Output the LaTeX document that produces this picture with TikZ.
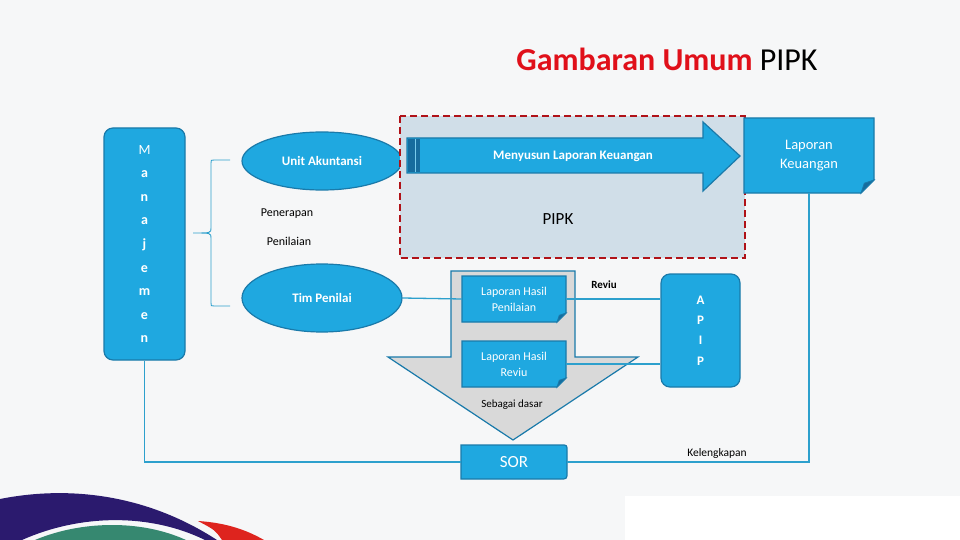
\documentclass[tikz,border=0pt]{standalone}
\usepackage{fontspec}
\setmainfont{Carlito}
\usetikzlibrary{shapes.geometric}

\definecolor{boxblue}{RGB}{31,168,224}
\definecolor{boxedge}{RGB}{26,122,170}
\definecolor{lineblue}{RGB}{45,160,205}
\definecolor{foldblue}{RGB}{22,108,158}
\definecolor{pipkfill}{RGB}{208,222,232}
\definecolor{pipkred}{RGB}{176,18,24}
\definecolor{titlered}{RGB}{224,16,26}
\definecolor{arrowgray}{RGB}{217,217,217}
\definecolor{bgcol}{RGB}{246,247,248}
\definecolor{logopurple}{RGB}{43,26,110}
\definecolor{logogreen}{RGB}{54,136,112}
\definecolor{logored}{RGB}{222,36,30}

\tikzset{
  bluebox/.style={fill=boxblue, draw=boxedge, line width=1.2pt, text=white},
  doctext/.style={text=white, align=center, inner sep=0pt},
  conn/.style={draw=lineblue, line width=1.3pt},
  plainlabel/.style={text=black, font=\fontsize{11.5}{13}\selectfont}
}

% page with folded lower right corner: x1,y1,x2,y2,fold
\newcommand{\docpage}[5]{%
  \filldraw[bluebox] (#1,#2) -- (#3,#2) -- (#3,#4-#5) -- (#3-#5,#4) -- (#1,#4) -- cycle;
  \filldraw[fill=foldblue, draw=boxedge, line width=0.8pt] (#3-#5,#4) -- (#3,#4-#5) -- (#3-#5+0.25*#5,#4-#5+0.25*#5) -- cycle;
}

\begin{document}
\begin{tikzpicture}[x=1pt,y=-1pt]
    \fill[bgcol] (0,0) rectangle (960,540);
    \fill[white] (625,496) rectangle (960,540);
    % logo
    \fill[logopurple] (0,499) .. controls (60,487) and (140,490) .. (217,540) -- (205,540) .. controls (150,513) and (80,514) .. (22,540) -- (0,540) -- cycle;
    \fill[logogreen] (35,540) .. controls (80,521) and (140,519) .. (186,540) -- cycle;
    \fill[logored] (198,521) .. controls (230,523) and (250,532) .. (264,540) -- (222,540) .. controls (215,530) .. (198,521) -- cycle;

    \node[anchor=base, font=\fontsize{32}{36}\selectfont] (title) at (667,71) {\textcolor{titlered}{\bfseries Gambaran Umum} PIPK};

    \node[bluebox, rounded corners=9, minimum width=81, minimum height=232, align=center,
      font=\fontsize{14}{23.6}\selectfont] (manajemen) at (144.5,244) {M\\\textbf{a}\\\textbf{n}\\\textbf{a}\\\textbf{j}\\\textbf{e}\\\textbf{m}\\\textbf{e}\\\textbf{n}};

    \draw[lineblue, line width=0.9pt] (230,160) -- (214,160) .. controls (211,160) .. (211,163) -- (211,228)
      .. controls (211,233) .. (193,233) .. controls (211,233) .. (211,238) -- (211,303)
      .. controls (211,306) .. (214,306) -- (230,306);

    \node[bluebox, ellipse, minimum width=160, minimum height=58, font=\fontsize{13}{15}\selectfont\bfseries] (unitak) at (322,161) {Unit Akuntansi};
    \node[bluebox, ellipse, minimum width=160, minimum height=68, font=\fontsize{13}{15}\selectfont\bfseries] (timpenilai) at (322,298) {Tim Penilai};
    \node[plainlabel, font=\fontsize{12}{14}\selectfont] (penerapan) at (287,214) {Penerapan};
    \node[plainlabel, font=\fontsize{12}{14}\selectfont] (penilaian) at (289,241) {Penilaian};

    \draw[pipkred, fill=pipkfill, line width=2.2pt, dash pattern=on 7pt off 4pt] (400,116) rectangle (745,258);
    \filldraw[bluebox] (407,138) -- (703,138) -- (703,122) -- (740,156) -- (703,191) -- (703,173) -- (407,173) -- cycle;
    \fill[foldblue] (408,138.6) rectangle (420,172.4);
    \draw[boxblue!60!white, line width=0.8pt] (415,139) -- (415,172);
    \node[text=white, font=\fontsize{13}{15}\selectfont\bfseries] (menyusun) at (573,156) {Menyusun Laporan Keuangan};
    \node[font=\fontsize{17}{20}\selectfont] (pipk) at (558,219) {PIPK};

    \docpage{744}{118}{874}{193}{13}
    \node[doctext, minimum width=130, minimum height=75, font=\fontsize{14.5}{19}\selectfont] (lapkeu) at (809,155.5) {Laporan\\Keuangan};

    \filldraw[fill=arrowgray, draw=boxedge, line width=1.2pt] (451,271) -- (575,271) -- (575,357) -- (638,357) -- (513,440) -- (388,357) -- (451,357) -- cycle;
    \docpage{462}{276}{566}{322}{9}
    \node[doctext, minimum width=104, minimum height=46, font=\fontsize{12}{16}\selectfont] (lhp) at (514,299) {Laporan Hasil\\Penilaian};
    \docpage{462}{341}{566}{387}{9}
    \node[doctext, minimum width=104, minimum height=46, font=\fontsize{12}{16}\selectfont] (lhr) at (514,364) {Laporan Hasil\\Reviu};
    \node[plainlabel, font=\fontsize{11}{13}\selectfont] (dasar) at (512,405) {Sebagai dasar};

    \node[bluebox, rounded corners=9, minimum width=79, minimum height=113, align=center,
      font=\fontsize{13}{20.3}\selectfont\bfseries] (apip) at (700.5,330.5) {A\\P\\I\\P};

    \filldraw[bluebox] (461,445) -- (561,445) .. controls (567,445) .. (567,451) -- (567,472) .. controls (567,479) .. (560,479) -- (461,479) -- cycle;
    \node[text=white, minimum width=106, minimum height=34, font=\fontsize{17}{20}\selectfont] (sor) at (514,462) {SOR};

    \draw[conn] (timpenilai.east) -- (lhp.west);
    \draw[conn] (lhp.east) -- (lhp.east -| apip.west);
    \draw[conn] (lhr.east) -- (lhr.east -| apip.west);
    \draw[conn] (manajemen.south) |- (sor.west);
    \draw[conn] (lapkeu.south) |- (sor.east);
    \node[plainlabel, font=\fontsize{11}{13}\selectfont\bfseries] (reviu) at (604,285) {Reviu};
    \node[plainlabel] (kelengkapan) at (717,453) {Kelengkapan};
\end{tikzpicture}
\end{document}
